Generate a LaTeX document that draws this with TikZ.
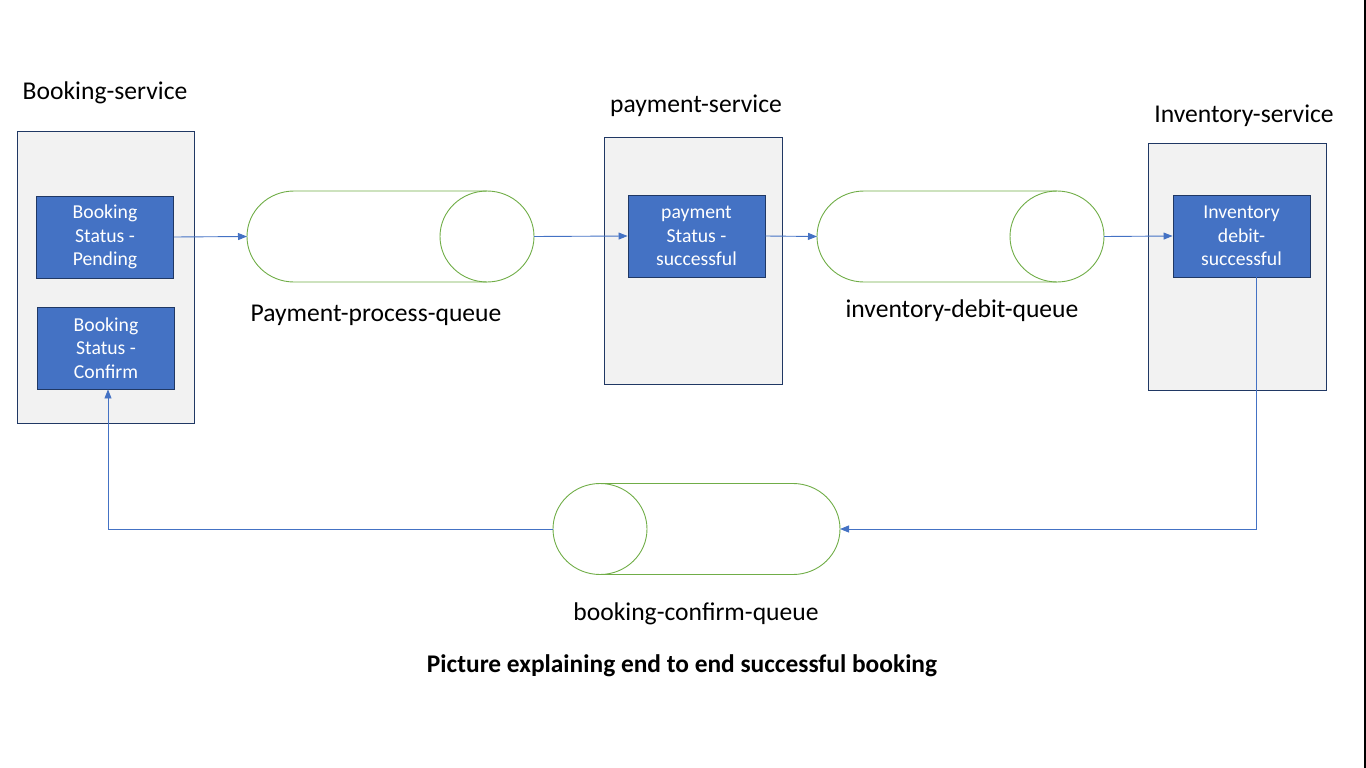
\documentclass[tikz,border=0pt]{standalone}
\usepackage{fontspec}
\setmainfont{Carlito}
\usepackage{xcolor}
\usepackage{tikz}
\usetikzlibrary{arrows.meta,positioning,calc}
\definecolor{msblue}{RGB}{68,114,196}
\definecolor{navy}{RGB}{32,56,100}
\definecolor{panelgray}{RGB}{242,242,242}
\definecolor{pipegreen}{RGB}{112,173,71}

\begin{document}
\begin{tikzpicture}[
  x=1pt, y=-1pt,
  service/.style={draw=navy, line width=0.9pt, fill=panelgray, minimum width=178pt, minimum height=247pt, inner sep=0pt},
  status/.style={draw=navy, line width=0.9pt, fill=msblue, text=white, align=center, minimum width=137pt, minimum height=82pt, inner sep=0pt, font=\fontsize{19.7}{23.5}\selectfont},
  queue/.style={minimum width=287pt, minimum height=91pt, inner sep=0pt, outer sep=0pt},
  pipe/.style={draw=pipegreen, line width=0.9pt},
  title/.style={font=\fontsize{25.6}{30}\selectfont, inner sep=0pt},
  flow/.style={draw=msblue, line width=0.9pt, -{Triangle[length=9pt,width=7pt]}}
]
\useasboundingbox (0,0) rectangle (1366,768);
\draw[line width=2pt] (1365,0) -- (1365,768);

\node[service, minimum width=177pt, minimum height=292pt] (booking) at (105.5,277) {};
\node[service] (payment) at (693,260.5) {};
\node[service] (inventory) at (1237,266.5) {};

\node[title] (bookingT) at (105,92.5) {Booking-service};
\node[title] (paymentT) at (696,105.5) {payment-service};
\node[title] (inventoryT) at (1244,115.5) {Inventory-service};

\node[status] (pending) at (105,237) {Booking\\Status -\\Pending};
\node[status] (confirm) at (106,348) {Booking\\Status -\\Confirm};
\node[status] (paid) at (696.5,236) {payment\\Status -\\successful};
\node[status] (debited) at (1241.5,236) {Inventory\\debit-\\successful};

% queues
\node[queue] (q1) at (390.5,236.5) {};
\node[queue] (q2) at (960.5,236.5) {};
\node[queue] (q3) at (696.5,529) {};
\foreach \q in {q1,q2}{
  \draw[pipe] ([xshift=47pt]\q.north west) -- ([xshift=-47pt]\q.north east)
    ([xshift=-47pt]\q.south east) -- ([xshift=47pt]\q.south west)
    arc[start angle=270, end angle=90, x radius=47pt, y radius=45.5pt];
  \draw[pipe] ([xshift=-47pt]\q.east) ellipse[x radius=47pt, y radius=45.5pt];
}
\draw[pipe] ([xshift=47pt]q3.north west) -- ([xshift=-47pt]q3.north east)
  arc[start angle=90, end angle=-90, x radius=47pt, y radius=45.5pt]
  -- ([xshift=47pt]q3.south west);
\draw[pipe] ([xshift=47pt]q3.west) ellipse[x radius=47pt, y radius=45.5pt];

\node[title] (q1T) at (376,315.5) {Payment-process-queue};
\node[title] (q2T) at (962,310.5) {inventory-debit-queue};
\node[title] (q3T) at (696,613.5) {booking-confirm-queue};

\node[font=\fontsize{25.4}{30}\selectfont\bfseries, inner sep=0pt] (caption) at (682,665.5) {Picture explaining end to end successful booking};

\draw[flow] (pending.east) -- (q1.west);
\draw[flow] (q1.east) -- (paid.west);
\draw[flow] (paid.east) -- (q2.west);
\draw[flow] (q2.east) -- (debited.west);
\draw[flow] ([xshift=14.5pt]debited.south) |- (q3.east);
\draw[flow] (q3.west) -| ([xshift=2pt]confirm.south);
\end{tikzpicture}
\end{document}
